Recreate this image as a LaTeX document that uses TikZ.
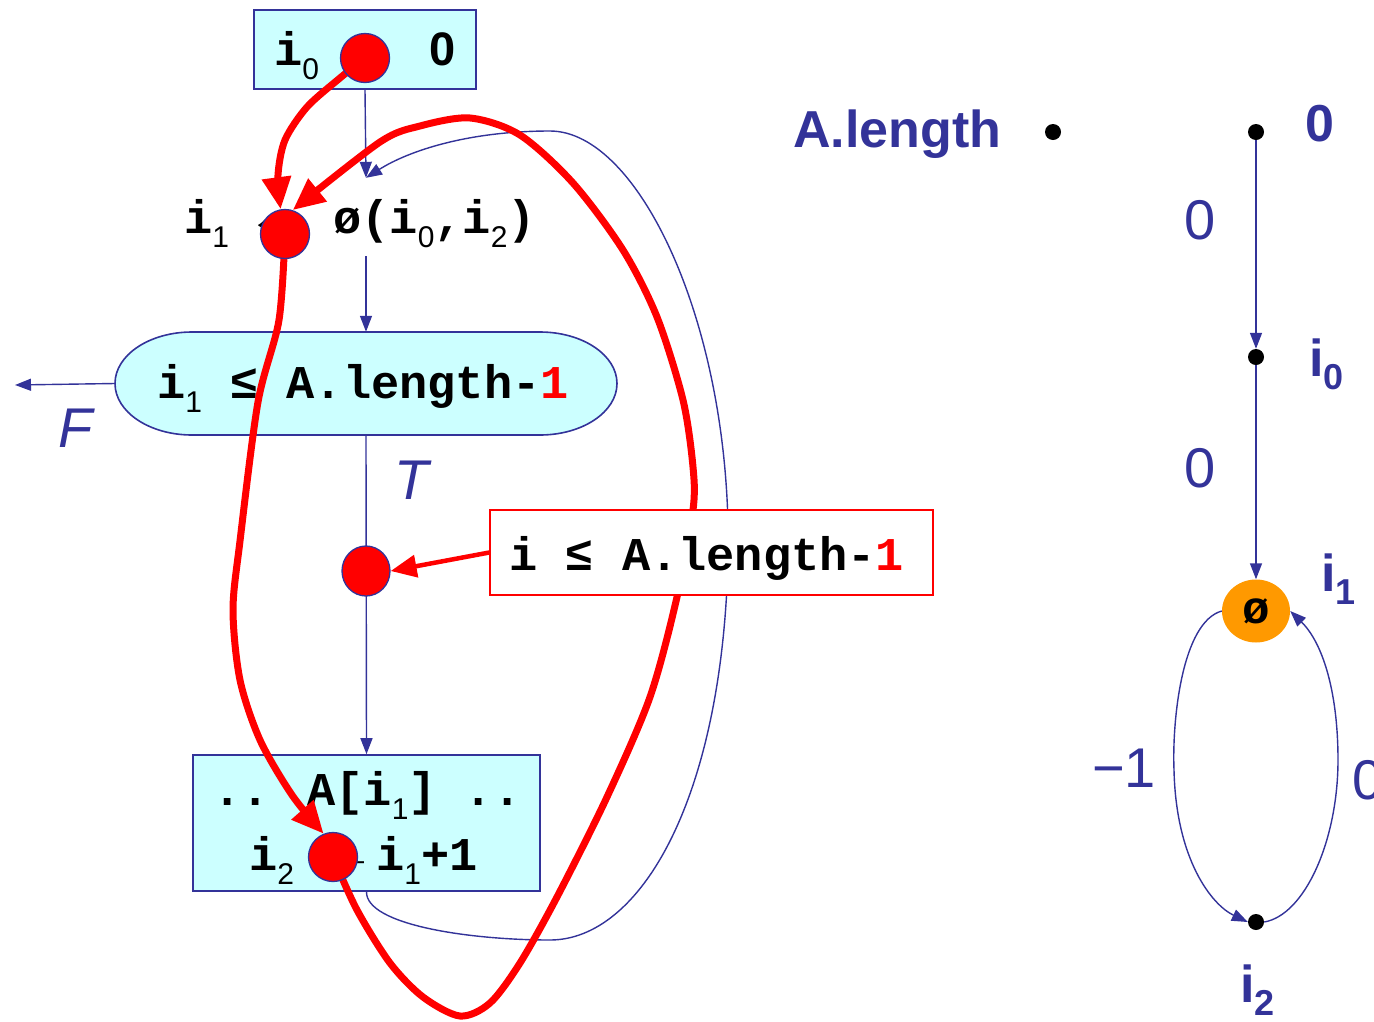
\documentclass[tikz,border=0pt]{standalone}
\usepackage{fontspec}
\setmainfont{Liberation Sans}
\newfontfamily\codefont{Liberation Mono}
\newfontfamily\digfont{Liberation Sans}
\usetikzlibrary{arrows.meta,shapes.geometric}
\definecolor{bl}{RGB}{51,51,153}
\definecolor{cy}{RGB}{204,255,255}
\definecolor{rd}{RGB}{255,0,0}
\definecolor{og}{RGB}{255,153,0}
\newcommand\csub[1]{\raisebox{-0.3em}{\digfont\fontsize{30}{30}\selectfont\mdseries #1}}
\newcommand\ssub[1]{\raisebox{-0.25em}{\fontsize{36}{36}\selectfont #1}}
\begin{document}
\begin{tikzpicture}[x=1pt,y=-1pt,
  code/.style={font=\codefont\bfseries\fontsize{47}{47}\selectfont, inner sep=0pt, anchor=base west},
  cbox/.style={draw=bl, fill=cy, line width=1.6pt, inner sep=0pt},
  bline/.style={draw=bl, line width=1.4pt},
  barr/.style={bline, -{Triangle[length=16pt,width=12pt]}},
  rline/.style={draw=rd, line width=7pt},
  rarr/.style={rline, -{Triangle[length=32pt,width=28pt]}},
  rdot/.style={circle, fill=rd, draw=bl, line width=1.3pt, minimum size=49pt, inner sep=0pt},
  bdot/.style={circle, fill=black, minimum size=16pt, inner sep=0pt},
  lab/.style={text=bl, font=\fontsize{56}{56}\selectfont, inner sep=0pt},
  blab/.style={text=bl, font=\bfseries\fontsize{52}{52}\selectfont, inner sep=0pt},
]
\useasboundingbox (0,0) rectangle (1374,1021);

% ---------- left: control flow graph ----------
\node[cbox, minimum width=222pt, minimum height=79pt] (top) at (365,49.5) {};
\node[minimum width=10pt, minimum height=78pt, inner sep=0pt] (phi) at (366,217) {};
\node[minimum width=502pt, minimum height=103pt, inner sep=0pt] (cond) at (366,383.5) {};
\node[cbox, minimum width=347pt, minimum height=136pt] (bot) at (366.5,823) {};
\coordinate (fend) at (15,385);

% stadium shape of the condition
\draw[draw=bl, fill=cy, line width=1.6pt] (192,332) -- (540,332)
  arc[start angle=90, end angle=-90, x radius=77pt, y radius=51.5pt]
  -- (192,435)
  arc[start angle=270, end angle=90, x radius=77pt, y radius=51.5pt] -- cycle;

% blue edges
\draw[barr] (top.south) -- (phi.north);
\draw[barr] (phi.south) -- (cond.north);
\draw[barr] (cond.south) -- (bot.north);
\draw[barr] (cond.west) -- (fend);
\draw[barr] (bot.south) .. controls (366,925) and (470,940) .. (550,940)
  .. controls (640,940) and (722,800) .. (728,560)
  .. controls (733,330) and (640,131) .. (550,131)
  .. controls (470,131) and (410,150) .. (phi.north);

% texts
\node[code] (t0i) at (274,65) {i\csub{0}};
\node[code] (t0a) at (362,65) {←};
\node[code, font=\digfont\bfseries\fontsize{47}{47}\selectfont] (t0z) at (429,65) {0};

\node[code] (p1) at (184,233) {i\csub{1}};
\node[code] (p1a) at (258,233) {←};
\node[code] (p1b) at (333,233) {ø(i\csub{0},i\csub{2})};

\node[code] (ct) at (157,398) {i\csub{1} ≤ A.length-\textcolor{rd}{1}};

\node[code] (b1) at (213,805) {.. A[i\csub{1}] ..};
\node[code] (b2) at (249,870) {i\csub{2}};
\node[code] (b2a) at (336,870) {←};
\node[code] (b2b) at (376,870) {i\csub{1}+1};

\node[lab, font=\itshape\fontsize{56}{56}\selectfont] (F) at (76,428) {F};
\node[lab, font=\itshape\fontsize{56}{56}\selectfont] (T) at (412,480) {T};

% red circles (positions)
\coordinate (c0p) at (365,58);
\coordinate (c1p) at (285,234);
\coordinate (c2p) at (366,571);
\coordinate (c3p) at (333,857);
\node[rdot, draw=none, fill=none] (c0) at (c0p) {};
\node[rdot, draw=none, fill=none] (c1) at (c1p) {};
\node[rdot, draw=none, fill=none] (c3) at (c3p) {};

% red paths
\draw[rarr] plot[smooth] coordinates {(c0.center) (340,78) (307,107) (285,140) (278,175) (c1.100)};
\draw[rarr] plot[smooth] coordinates {(c1.center) (279,320) (258,402) (240,541) (233,610) (240,680) (260,740) (292,795) (c3.112)};
\draw[rarr] plot[smooth] coordinates {(c3.center) (357,910) (390,963) (423,997) (460,1016) (490,1003) (520,963) (557,897) (607,797) (650,697) (677,597) (693,510) (693,467) (683,400) (657,317) (623,250) (573,183) (520,135) (470,118) (420,126) (380,142) (c1.72)};

% red box
\node[draw=rd, fill=white, line width=1.5pt, minimum width=443pt, minimum height=85pt, inner sep=0pt] (rbox) at (711.5,552.5) {};
\node[code] (rt) at (509,570) {i ≤ A.length-\textcolor{rd}{1}};

% red dots on top
\node[rdot] (r0) at (c0p) {};
\node[rdot] (r1) at (c1p) {};
\node[rdot, minimum width=48pt, minimum height=50pt, ellipse] (r2) at (c2p) {};
\node[rdot] (r3) at (c3p) {};
\draw[rarr, line width=4.5pt, -{Triangle[length=26pt,width=22pt]}] (rbox.west) -- (r2.east);

% ---------- right: dominance graph ----------
\node[blab, anchor=base west] (alen) at (793,147) {A.length};
\node[bdot] (dA) at (1053,132) {};
\node[bdot] (d0) at (1256,132) {};
\node[blab] (l0) at (1320,124) {0};
\node[bdot] (di0) at (1256,357) {};
\node[blab, anchor=base west] (li0) at (1309,376) {i\ssub{0}};
\node[ellipse, fill=og, minimum width=68pt, minimum height=63pt, inner sep=0pt] (phi2) at (1256,611)
  {\codefont\bfseries\fontsize{46}{46}\selectfont ø};
\node[blab, anchor=base west] (li1) at (1321,591) {i\ssub{1}};
\node[bdot] (di2) at (1256,922) {};
\node[blab, anchor=base west] (li2) at (1240,1002) {i\ssub{2}};

\draw[barr] (d0) -- (di0);
\draw[barr] (di0) -- (phi2);
\draw[barr] (phi2.west) .. controls (1182,622) and (1172,720) .. (1174,770)
  .. controls (1176,860) and (1212,905) .. (di2.west);
\draw[barr] (di2.east) .. controls (1305,915) and (1338,840) .. (1338,760)
  .. controls (1338,690) and (1322,642) .. (phi2.east);

\node[lab] (e1) at (1200,220) {0};
\node[lab] (e2) at (1200,468) {0};
\node[lab] (e3) at (1124,768) {−1};
\node[lab, anchor=west] (e4) at (1352,780) {0};
\end{tikzpicture}
\end{document}
